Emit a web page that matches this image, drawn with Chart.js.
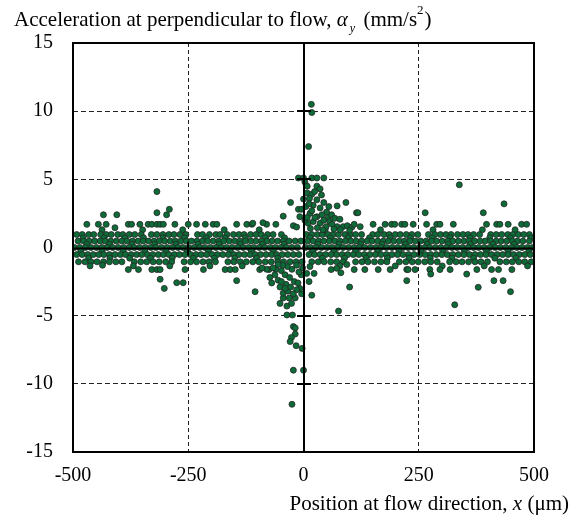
<!DOCTYPE html>
<html>
<head>
<meta charset="utf-8">
<script src="https://cdn.jsdelivr.net/npm/chart.js@4.4.1/dist/chart.umd.min.js"></script>
<style>
  html, body { margin: 0; padding: 0; background: #fff; }
  #wrap { width: 584px; height: 520px; }
</style>
</head>
<body>
<div id="wrap"><canvas id="chart" width="584" height="520"></canvas></div>
<script>
// axis ticks
const xTicks = [-500, -250, 0, 250, 500];
const yTicks = [-15, -10, -5, 0, 5, 10, 15];

// dense band: the data sits on quantised levels, x positions per level
const bandLevels = [1.3, 0.95, 0.71, 0.47, 0.24, 0, -0.26, -0.52, -0.78, -1.05, -1.35];
const bandRows = [
  [-437,-349,-262,-172,-96,47,167,281,388,459],
  [-492,-480,-466,-455,-440,-428,-417,-403,-392,-378,-366,-352,-330,-318,-305,-292,-281,-268,-255,-230,-219,-204,-190,-181,-166,-152,-140,-129,-115,-103,-92,-78,-66,-48,6,18,30,41,53,64,76,90,101,113,126,150,161,175,186,199,210,223,235,248,271,285,297,309,320,334,346,357,369,382,406,418,430,443,454,466,478,490],
  [-478,-433,-388,-347,-305,-258,-211,-170,-126,-83,-41,14,58,97,143,188,232,279,318,361,404,449,493],
  [-489,-477,-465,-453,-441,-430,-418,-406,-394,-383,-371,-359,-348,-336,-324,-313,-301,-289,-278,-266,-254,-243,-231,-219,-208,-196,-184,-173,-161,-149,-138,-126,-114,-103,-91,-79,-68,-56,-44,-31,-18,-6,9,21,33,44,56,68,79,91,103,114,126,138,149,161,173,184,196,208,219,231,243,254,266,278,289,301,313,324,336,348,359,371,383,394,406,418,429,441,453,464,476,490],
  [-470,-421,-372,-323,-277,-229,-183,-137,-89,-42,31,77,124,170,221,268,314,362,411,457],
  [-497,-485,-473,-461,-449,-437,-426,-414,-402,-390,-378,-367,-355,-343,-331,-320,-308,-296,-284,-272,-261,-249,-237,-225,-214,-202,-190,-178,-167,-155,-143,-131,-119,-108,-96,-84,-72,-61,-49,-37,-25,-13,4,15,27,39,51,62,74,86,98,110,121,133,145,157,168,180,192,204,216,227,239,251,263,274,286,298,310,322,333,345,357,369,380,392,404,416,427,439,451,463,474,486,497],
  [-483,-437,-391,-344,-298,-252,-206,-159,-113,-66,20,66,113,161,207,255,302,349,397,444,489],
  [-492,-480,-468,-456,-444,-433,-421,-409,-397,-386,-374,-362,-351,-339,-327,-315,-304,-292,-280,-269,-257,-245,-233,-222,-210,-198,-187,-175,-163,-151,-140,-128,-116,-105,-93,-81,-69,-58,-46,-34,-22,-10,12,24,36,48,60,72,84,96,108,120,132,144,156,168,180,192,204,216,228,240,252,264,276,288,300,312,324,336,348,360,372,384,396,408,420,432,444,456,468,480,492],
  [-466,-420,-377,-332,-285,-239,-193,-149,-102,-56,41,89,136,182,229,275,322,369,415,461],
  [-488,-474,-461,-448,-434,-421,-407,-394,-367,-353,-340,-326,-313,-299,-286,-259,-245,-232,-218,-205,-191,-164,-151,-137,-124,-110,-97,-83,-70,-56,-43,-29,-16,-3,18,32,45,59,72,86,113,127,140,154,168,181,208,222,236,249,263,276,290,317,331,344,358,372,385,399,426,440,453,467,480,494],
  [-463,-369,-290,-203,-133,79,199,301,392,486]
];

// sparse levels just outside the band
const upperRowY = 1.7;
const upperRowX = [-470,-445,-428,-380,-373,-355,-337,-329,-318,-311,-304,-279,-250,-232,-213,-196,-188,-145,-123,-112,-80,-60,151,177,191,198,213,220,238,267,289,296,325,397,419,426,444,473,484];
const lowerRowY = -1.62;
const lowerRowX = [-380,-358,-329,-318,-311,-257,-217,-170,-159,-148,-95,-75,60,110,133,162,188,224,227,242,274,296,318,376,408,423,452];

// peak just right of x = 0 (positive acceleration)
const upSpike = [
  [17,10.5],[18,9.9],[11,7.4],[-11,5.1],[0,5.1],[18,5.1],[29,5.1],[44,5.1],[3,4.8],
  [8,4.5],[29,4.5],[36,4.3],[8,4.0],[39,3.85],[18,3.9],[24,4.1],[13,3.6],[29,3.5],[0,3.55],
  [-28,3.3],[21,3.1],[36,2.9],[92,3.3],[73,3.05],[-11,2.8],[-4,2.8],[-44,2.3],[14,2.5],
  [29,2.26],[54,2.26],[61,2.4],[115,2.55],[118,2.55],[-22,1.6],[10,1.78],[21,1.9],[36,1.78],
  [57,1.9],[68,2.14],[79,2.07],[49,1.53],[73,1.53],[86,1.53],[123,1.53],[-110,1.78],[-88,1.82],
  [-8,2.26],[3,2.0],[5,3.0],[18,2.7],[25,2.2],[44,2.0],[50,2.6],[62,1.7],[95,1.6],[105,1.5],
  [15,1.4],[30,1.45],[42,1.3],[66,1.35],[80,1.3],[100,1.25],[110,1.7],[12,3.2],[44,3.3],
  [8,2.2],[40,2.4],[-15,1.5],[55,3.0]
];

// trough just left of x = 0 (negative acceleration)
const downSpike = [
  [-105,-3.24],[-51,-4.1],[-36,-4.3],[-26,-4.1],[-18,-3.7],[-31,-3.7],[-44,-3.7],[-44,-3.35],
  [-34,-3.2],[-4,-3.4],[-8,-3.0],[-51,-2.9],[-55,-2.4],[-69,-2.6],[-73,-2.2],[-36,-4.95],[-24,-4.95],
  [-60,-1.6],[-48,-1.7],[-40,-2.0],[-30,-2.2],[-20,-2.5],[-12,-2.6],[-5,-2.0],[-62,-2.0],[-80,-1.6],
  [-90,-1.5],[-38,-2.7],[-28,-2.9],[-15,-3.1],[-22,-3.4],[-10,-1.8],[-25,-1.6],[-35,-1.4],[-45,-1.3],
  [-55,-1.25],[-15,-1.3],[-66,-1.5],[-2,-1.5],[-40,-3.0],[-48,-2.5],
  [-22,-5.8],[-18,-5.9],[-18,-6.35],[-26,-6.6],[-29,-6.9],[-16,-7.2],[-3,-7.4],[-22,-9.0],[0,-9.0],[-25,-11.5],
  [72,-1.53],[81,-1.85],[94,-1.25],[23,-1.9],[14,-1.4],[7,-1.9],[12,-2.5],[18,-3.5],[100,-2.9],[76,-4.66]
];

// scattered outliers away from the centre
const outliers = [
  [-434,2.4],[-405,2.4],[-318,2.55],[-297,2.4],[-291,2.8],[-318,4.1],[-409,1.45],
  [264,2.55],[390,2.55],[435,3.2],[338,4.6],
  [-311,-2.33],[-302,-3.0],[-275,-2.58],[-261,-2.58],[-145,-2.43],[-436,-1.3],
  [224,-2.43],[276,-1.95],[354,-1.95],[413,-2.43],[433,-2.43],[379,-2.92],[449,-3.24],[328,-4.2]
];

const points = [];
bandRows.forEach((row, i) => row.forEach(x => points.push({ x, y: bandLevels[i] })));
upperRowX.forEach(x => points.push({ x, y: upperRowY }));
lowerRowX.forEach(x => points.push({ x, y: lowerRowY }));
[upSpike, downSpike, outliers].forEach(set => set.forEach(p => points.push({ x: p[0], y: p[1] })));

const SERIF = '"Liberation Serif", "Times New Roman", serif';
const TITLE_SIZE = 21;

// draws a run of text pieces, each piece may be italic / shifted / smaller
function setRunFont(ctx, r) {
  ctx.font = (r.italic ? 'italic ' : '') + (r.size || TITLE_SIZE) + 'px ' + SERIF;
}
function drawRuns(ctx, runs, x, y) {
  runs.forEach(r => {
    setRunFont(ctx, r);
    ctx.fillText(r.t, x, y + (r.dy || 0));
    x += ctx.measureText(r.t).width + (r.gap || 0);
  });
}
function runsWidth(ctx, runs) {
  let w = 0;
  runs.forEach(r => { setRunFont(ctx, r); w += ctx.measureText(r.t).width + (r.gap || 0); });
  return w;
}

const axesPlugin = {
  id: 'axesPlugin',
  afterDatasetsDraw(chart) {
    const { ctx, chartArea: a, scales: { x, y } } = chart;
    const x0 = Math.round(x.getPixelForValue(0));
    const y0 = Math.round(y.getPixelForValue(0)) + 0.5;
    ctx.save();
    ctx.strokeStyle = '#000';
    ctx.lineWidth = 2;
    ctx.beginPath();
    ctx.moveTo(x0, a.top); ctx.lineTo(x0, a.bottom);
    ctx.moveTo(a.left, y0); ctx.lineTo(a.right, y0);
    yTicks.forEach(v => {
      if (v === 0 || Math.abs(v) === 15) return;
      const p = Math.round(y.getPixelForValue(v));
      ctx.moveTo(x0 - 7, p); ctx.lineTo(x0 + 7, p);
    });
    xTicks.forEach(v => {
      if (v === 0 || Math.abs(v) === 500) return;
      const p = Math.round(x.getPixelForValue(v));
      ctx.moveTo(p, y0 - 7); ctx.lineTo(p, y0 + 7);
    });
    ctx.stroke();
    ctx.strokeRect(a.left, a.top, a.right - a.left, a.bottom - a.top);
    ctx.restore();
  },
  afterDraw(chart) {
    const { ctx } = chart;
    ctx.save();
    ctx.fillStyle = '#000';
    ctx.textBaseline = 'alphabetic';
    ctx.textAlign = 'left';
    drawRuns(ctx, [
      { t: 'Acceleration at perpendicular to flow, ' },
      { t: '\u03b1', italic: true, gap: 2 },
      { t: 'y', italic: true, size: 12, dy: 6, gap: 3 },
      { t: ' (mm/s' },
      { t: '2', size: 13, dy: -12, gap: 1 },
      { t: ')' }
    ], 14, 26);
    const xRuns = [
      { t: 'Position at flow direction, ' },
      { t: 'x', italic: true },
      { t: ' (\u03bcm)' }
    ];
    drawRuns(ctx, xRuns, 569 - runsWidth(ctx, xRuns), 510);
    ctx.restore();
  }
};

const tickFont = { family: SERIF, size: 20 };

new Chart(document.getElementById('chart'), {
  type: 'scatter',
  data: {
    datasets: [{
      data: points,
      pointRadius: 3,
      pointHoverRadius: 3,
      backgroundColor: '#0c6b36',
      borderColor: '#262626',
      borderWidth: 0.8
    }]
  },
  options: {
    responsive: false,
    animation: false,
    devicePixelRatio: 1,
    layout: { padding: { top: 43, right: 50, left: 0, bottom: 0 } },
    plugins: { legend: { display: false }, tooltip: { enabled: false } },
    scales: {
      x: {
        type: 'linear',
        min: -500, max: 500,
        afterBuildTicks: s => { s.ticks = xTicks.map(v => ({ value: v })); },
        afterFit: s => { s.height = 68; },
        ticks: { font: tickFont, color: '#000', padding: 12, maxRotation: 0 },
        grid: {
          drawTicks: false,
          lineWidth: 1,
          color: c => (c.tick && (c.tick.value === 0 || Math.abs(c.tick.value) === 500)) ? 'rgba(0,0,0,0)' : '#222'
        },
        border: { display: false, dash: [4, 3] }
      },
      y: {
        type: 'linear',
        min: -15, max: 15,
        afterBuildTicks: s => { s.ticks = yTicks.map(v => ({ value: v })); },
        afterFit: s => { s.width = 73; },
        ticks: { font: tickFont, color: '#000', padding: 20 },
        grid: {
          drawTicks: false,
          lineWidth: 1,
          color: c => (c.tick && (c.tick.value === 0 || Math.abs(c.tick.value) === 15)) ? 'rgba(0,0,0,0)' : '#222'
        },
        border: { display: false, dash: [5, 3] }
      }
    }
  },
  plugins: [axesPlugin]
});
</script>
</body>
</html>
